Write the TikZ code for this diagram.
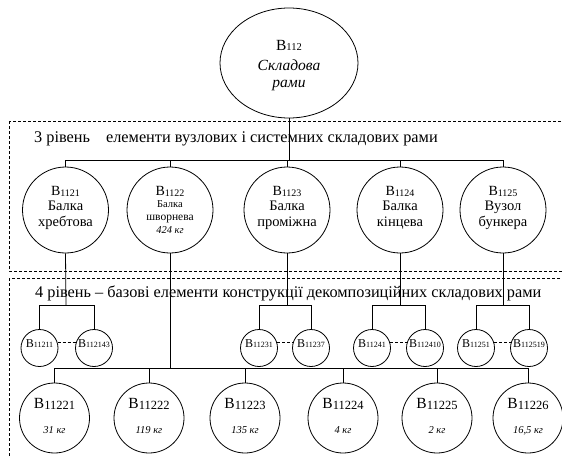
\documentclass[tikz,border=0pt]{standalone}
\usepackage{fontspec}
\setmainfont{Liberation Serif}
\usetikzlibrary{shapes.geometric}
\newcommand\fsz[1]{\fontsize{#1}{#1}\selectfont}
\newcommand\Bs[4]{{\fsz{#1}В}\raisebox{#4}{\fsz{#2}#3}}
\tikzset{
  ln/.style={line width=0.8pt},
  boxline/.style={dash pattern=on 3pt off 2pt, line width=0.7pt},
  topell/.style={ellipse, draw, line width=0.8pt, minimum width=138pt, minimum height=110pt, inner sep=0pt},
  cthree/.style={circle, draw, line width=0.8pt, minimum size=86pt, inner sep=0pt},
  cfour/.style={circle, draw, line width=0.8pt, minimum size=37pt, inner sep=0pt},
  cfive/.style={circle, draw, line width=0.8pt, minimum size=70pt, inner sep=0pt},
  bl/.style={anchor=base, inner sep=0pt},
  blthree/.style={bl, font=\fsz{14.5}},
  dashln/.style={dash pattern=on 3pt off 2pt, line width=0.7pt},
}
\begin{document}
\begin{tikzpicture}[x=1pt,y=-1pt]
\useasboundingbox (0,0) rectangle (562,455);
\clip (0,0) rectangle (562,455);
% dashed frames
\draw[boxline] (9,121) rectangle (575,271);
\draw[boxline] (9,278) rectangle (575,470);
% top
\node[topell] (top) at (289,63) {};
\node[bl] (tt1) at (289,50) {\Bs{15.5}{10.5}{112}{0pt}};
\node[bl, font=\fsz{15.5}\itshape] (tt2) at (289,70) {Складова};
\node[bl, font=\fsz{15.5}\itshape] (tt3) at (289,87) {рами};
% level 3 title
\node[anchor=west, inner sep=0pt, font=\fsz{16.3}] (lvl3) at (34,139)
  {3 рівень\hspace*{16pt}елементи вузлових і системних складових рами};
% level 3 circles
\node[cthree] (c1) at (65.5,210) {};
\node[cthree] (c2) at (170,210) {};
\node[cthree] (c3) at (287,210) {};
\node[cthree] (c4) at (400,210) {};
\node[cthree] (c5) at (503,210) {};
\node[bl] (t1a) at (65.5,195) {\Bs{14}{10}{1121}{-1pt}};
\node[blthree] (t1b) at (65.5,210) {Балка};
\node[blthree] (t1c) at (65.5,226.5) {хребтова};
\node[bl] (t2a) at (170,195) {\Bs{14}{10}{1122}{-1pt}};
\node[bl, font=\fsz{10.5}] (t2b) at (170,207) {Балка};
\node[bl, font=\fsz{11.5}] (t2c) at (170,220) {шворнева};
\node[bl, font=\fsz{10.5}\itshape] (t2d) at (170,233) {424 кг};
\node[bl] (t3a) at (287,195) {\Bs{14}{10}{1123}{-1pt}};
\node[blthree] (t3b) at (287,210) {Балка};
\node[blthree] (t3c) at (287,226.5) {проміжна};
\node[bl] (t4a) at (400,195) {\Bs{14}{10}{1124}{-1pt}};
\node[blthree] (t4b) at (400,210) {Балка};
\node[blthree] (t4c) at (400,226.5) {кінцева};
\node[bl] (t5a) at (503,195) {\Bs{14}{10}{1125}{-1pt}};
\node[blthree] (t5b) at (503,210) {Вузол};
\node[blthree] (t5c) at (503,226.5) {бункера};
% tree top -> level 3
\coordinate (h3) at (289,160);
\draw[ln] (top.south) -- (h3);
\draw[ln] (c1.north) -- (c1.north |- h3) -- (c5.north |- h3) -- (c5.north);
\draw[ln] (c2.north) -- (c2.north |- h3);
\draw[ln] (c3.north) -- (c3.north |- h3);
\draw[ln] (c4.north) -- (c4.north |- h3);
% level 4 title
\node[anchor=west, inner sep=0pt, font=\fsz{16.3}] (lvl4) at (35,293)
  {4 рівень – базові елементи конструкції декомпозиційних складових рами};
% level 4 small circles
\node[cfour] (d1a) at (39.5,348) {};
\node[cfour] (d1b) at (94,348) {};
\node[cfour] (d3a) at (259,348) {};
\node[cfour] (d3b) at (311,348) {};
\node[cfour] (d4a) at (372,348) {};
\node[cfour] (d4b) at (425,348) {};
\node[cfour] (d5a) at (476,348) {};
\node[cfour] (d5b) at (529,348) {};
\node[bl] (s1a) at (39.5,347) {\Bs{12}{8}{11211}{-0.5pt}};
\node[bl] (s1b) at (94,347) {\Bs{12}{8}{112143}{-0.5pt}};
\node[bl] (s3a) at (259,347) {\Bs{12}{8}{11231}{-0.5pt}};
\node[bl] (s3b) at (311,347) {\Bs{12}{8}{11237}{-0.5pt}};
\node[bl] (s4a) at (372,347) {\Bs{12}{8}{11241}{-0.5pt}};
\node[bl] (s4b) at (425,347) {\Bs{12}{8}{112410}{-0.5pt}};
\node[bl] (s5a) at (476,347) {\Bs{12}{8}{11251}{-0.5pt}};
\node[bl] (s5b) at (529,347) {\Bs{12}{8}{112519}{-0.5pt}};
\draw[dashln] (d1a.16) -- (d1b.164);
\draw[dashln] (d3a.16) -- (d3b.164);
\draw[dashln] (d4a.16) -- (d4b.164);
\draw[dashln] (d5a.16) -- (d5b.164);
% level 3 -> level 4
\coordinate (h41) at (66,305);
\coordinate (h43) at (287,305);
\coordinate (h44) at (400,305);
\coordinate (h45) at (503,305);
\draw[ln] (c1.south) -- (h41);
\draw[ln] (d1a.north) -- (d1a.north |- h41) -- (d1b.north |- h41) -- (d1b.north);
\draw[ln] (c3.south) -- (h43);
\draw[ln] (d3a.north) -- (d3a.north |- h43) -- (d3b.north |- h43) -- (d3b.north);
\draw[ln] (c4.south) -- (h44);
\draw[ln] (d4a.north) -- (d4a.north |- h44) -- (d4b.north |- h44) -- (d4b.north);
\draw[ln] (c5.south) -- (h45);
\draw[ln] (d5a.north) -- (d5a.north |- h45) -- (d5b.north |- h45) -- (d5b.north);
% level 5 circles
\node[cfive] (e1) at (54.5,418) {};
\node[cfive] (e2) at (149,418) {};
\node[cfive] (e3) at (245,418) {};
\node[cfive] (e4) at (343,418) {};
\node[cfive] (e5) at (437,418) {};
\node[cfive] (e6) at (528,418) {};
\node[bl] (u1a) at (54.5,408) {\Bs{15.5}{12.5}{11221}{-1pt}};
\node[bl] (u2a) at (149,408) {\Bs{15.5}{12.5}{11222}{-1pt}};
\node[bl] (u3a) at (245,408) {\Bs{15.5}{12.5}{11223}{-1pt}};
\node[bl] (u4a) at (343,408) {\Bs{15.5}{12.5}{11224}{-1pt}};
\node[bl] (u5a) at (437,408) {\Bs{15.5}{12.5}{11225}{-1pt}};
\node[bl] (u6a) at (528,408) {\Bs{15.5}{12.5}{11226}{-1pt}};
\node[bl, font=\fsz{10.5}\itshape] (u1b) at (54.5,433) {31 кг};
\node[bl, font=\fsz{10.5}\itshape] (u2b) at (149,433) {119 кг};
\node[bl, font=\fsz{10.5}\itshape] (u3b) at (245,433) {135 кг};
\node[bl, font=\fsz{10.5}\itshape] (u4b) at (343,433) {4 кг};
\node[bl, font=\fsz{10.5}\itshape] (u5b) at (437,433) {2 кг};
\node[bl, font=\fsz{10.5}\itshape] (u6b) at (528,433) {16,5 кг};
% level 3 -> level 5
\coordinate (h5) at (170,368);
\draw[ln] (c2.south) -- (h5);
\draw[ln] (e1.north) -- (e1.north |- h5) -- (e6.north |- h5) -- (e6.north);
\draw[ln] (e2.north) -- (e2.north |- h5);
\draw[ln] (e3.north) -- (e3.north |- h5);
\draw[ln] (e4.north) -- (e4.north |- h5);
\draw[ln] (e5.north) -- (e5.north |- h5);
\end{tikzpicture}
\end{document}
